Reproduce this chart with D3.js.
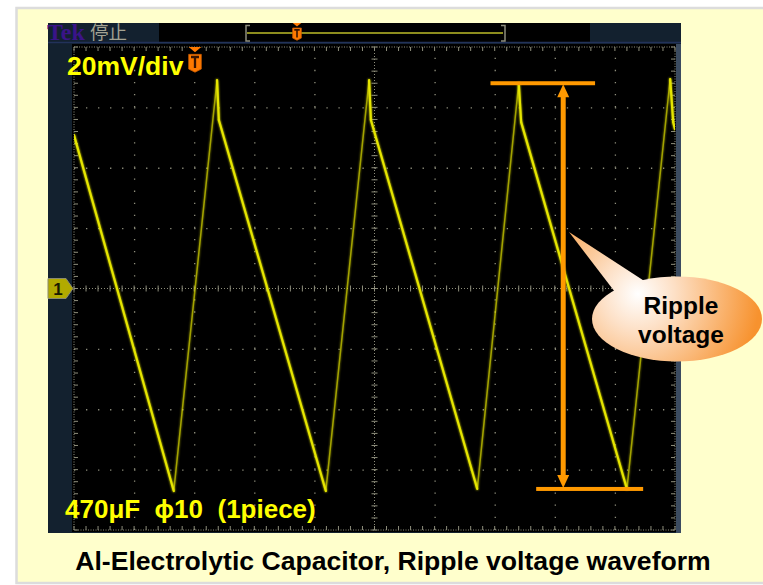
<!DOCTYPE html>
<html>
<head>
<meta charset="utf-8">
<script src="https://cdn.jsdelivr.net/npm/d3@7"></script>
<style>
	body { margin: 0; background: #fff; }
	svg { display: block; }
</style>
</head>
<body>
<div id="scopePlot"></div>
<script>
// waveform: time in divisions, voltage in mV (20mV/div)
var timeDiv = [0, 1.66, 2.38, 2.41, 4.19, 4.91, 4.94, 6.71, 7.40, 7.44, 9.20, 9.92, 9.97, 10]
var rippleMv = [50.8, -67.1, 69.0, 55.8, -67.1, 69.0, 55.8, -66.4, 68.0, 55.1, -66.4, 69.4, 55.1, 52.8]

var statusLabels = ["Tek", "停止"]
var scaleLabel = "20mV/div"
var partLabel = "470μF  ϕ10  (1piece)"
var calloutLines = ["Ripple", "voltage"]
var captionText = "Al-Electrolytic Capacitor, Ripple voltage waveform"
var channelLabel = "1"

;(function() {
	var w = 763, h = 585,
		screen = {left: 74, right: 675, top: 47, bottom: 530},
		navy = "#13212f",
		gridColor = "#8e8e7c",
		traceColor = "#e6e600",
		orange = "#ff9900",
		sans = "Arial, 'Liberation Sans', sans-serif",
		svg = d3.select("#scopePlot").append("svg")
			.attr("width", w)
			.attr("height", h)

	var x = d3.scaleLinear().domain([0, 10]).range([screen.left, screen.right])
	var y = d3.scaleLinear().domain([-80, 80]).range([screen.bottom, screen.top])

	var defs = svg.append("defs")

	var glow = defs.append("filter").attr("id", "glow")
		.attr("x", "-20%").attr("y", "-20%").attr("width", "140%").attr("height", "140%")
	glow.append("feGaussianBlur").attr("stdDeviation", 1.1).attr("result", "blur")
	var merge = glow.append("feMerge")
	merge.append("feMergeNode").attr("in", "blur")
	merge.append("feMergeNode").attr("in", "SourceGraphic")

	defs.append("clipPath").attr("id", "screenClip")
		.append("rect")
		.attr("x", screen.left).attr("y", screen.top)
		.attr("width", screen.right - screen.left)
		.attr("height", screen.bottom - screen.top)

	var bubble = defs.append("radialGradient").attr("id", "bubbleFill")
		.attr("gradientUnits", "userSpaceOnUse")
		.attr("cx", 638).attr("cy", 294).attr("r", 122)
	bubble.append("stop").attr("offset", "0%").attr("stop-color", "#ffffff")
	bubble.append("stop").attr("offset", "30%").attr("stop-color", "#fde0c6")
	bubble.append("stop").attr("offset", "100%").attr("stop-color", "#f7922e")

	// page background
	svg.append("rect")
		.attr("x", 16.5).attr("y", 8)
		.attr("width", 800).attr("height", 575)
		.attr("fill", "#ffffcc")
		.attr("stroke", "#dcdcdc")
		.attr("stroke-width", 2.5)

	// scope body
	svg.append("rect")
		.attr("x", 48).attr("y", 23)
		.attr("width", 633).attr("height", 510)
		.attr("fill", navy)

	svg.append("rect")
		.attr("x", 676).attr("y", 44)
		.attr("width", 5).attr("height", 489)
		.attr("fill", "#3b4b60")

	// status bar
	svg.append("rect")
		.attr("x", 159).attr("y", 23)
		.attr("width", 431).attr("height", 19)
		.attr("fill", "#000")
	svg.append("line")
		.attr("x1", 48).attr("x2", 681)
		.attr("y1", 42.5).attr("y2", 42.5)
		.attr("stroke", "#22325a")
		.attr("stroke-width", 1.5)

	svg.append("text")
		.attr("x", 47).attr("y", 40)
		.attr("font-family", "'Liberation Serif', 'DejaVu Serif', serif")
		.attr("font-weight", "bold")
		.attr("font-size", 24)
		.attr("fill", "#3a1488")
		.text(statusLabels[0])

	svg.append("text")
		.attr("x", 90).attr("y", 39)
		.attr("font-family", "'Noto Sans CJK SC', sans-serif")
		.attr("font-size", 18.5)
		.attr("fill", "#a2a292")
		.text(statusLabels[1])

	// record length bar with trigger point
	svg.append("line")
		.attr("x1", 247).attr("x2", 503)
		.attr("y1", 33).attr("y2", 33)
		.attr("stroke", "#8d8d1e")
		.attr("stroke-width", 2)
	svg.append("path")
		.attr("d", "M250,25.5 H246 V41 H250 M501,25.5 H505 V41 H501")
		.attr("fill", "none")
		.attr("stroke", "#8c8c7c")
		.attr("stroke-width", 1.5)

	var triggerMark = (g, cx, top, s) => {
		g.append("path")
			.attr("d", `M${cx - 6 * s},${top} H${cx + 6 * s} L${cx},${top + 5 * s} Z`)
			.attr("fill", "#ff7a00")
		g.append("path")
			.attr("d", `M${cx - 6 * s},${top + 7 * s} H${cx + 6 * s} V${top + 21 * s} L${cx},${top + 24 * s} L${cx - 6 * s},${top + 21 * s} Z`)
			.attr("fill", "#ff7a00")
			.attr("stroke", "#c85a00")
			.attr("stroke-width", 0.8)
		g.append("path")
			.attr("d", `M${cx - 3.8 * s},${top + 9.5 * s} H${cx + 3.8 * s} M${cx},${top + 9.5 * s} V${top + 20 * s}`)
			.attr("stroke", "#3a1500")
			.attr("stroke-width", 2.2 * s)
	}
	triggerMark(svg.append("g"), 297, 23, 0.72)

	// graticule
	svg.append("rect")
		.attr("x", 72).attr("y", 44)
		.attr("width", 604).attr("height", 488)
		.attr("fill", "#000")

	var vGrid = d3.axisBottom(x)
		.tickValues(d3.range(1, 10).filter(d => d !== 5))
		.tickSize(-(screen.bottom - screen.top))
		.tickFormat("")
	svg.append("g")
		.attr("transform", "translate(0," + screen.bottom + ")")
		.call(vGrid)
		.call(g => g.select(".domain").remove())
		.selectAll("line")
		.attr("stroke", gridColor)
		.attr("stroke-width", 1.3)
		.attr("stroke-dasharray", "1.3 10.775")

	var hGrid = d3.axisLeft(y)
		.tickValues([-60, -40, -20, 20, 40, 60])
		.tickSize(-(screen.right - screen.left))
		.tickFormat("")
	svg.append("g")
		.attr("transform", "translate(" + screen.left + ",0)")
		.call(hGrid)
		.call(g => g.select(".domain").remove())
		.selectAll("line")
		.attr("stroke", gridColor)
		.attr("stroke-width", 1.3)
		.attr("stroke-dasharray", "1.3 10.72")

	// center axes and frame: dense dots plus minor ticks
	var axesG = svg.append("g").attr("stroke", gridColor)
	var minorX = d3.range(0, 10.001, 0.2)
	var minorY = d3.range(-80, 80.001, 4)

	axesG.selectAll(".hAxis")
		.data([0])
		.enter().append("line")
		.attr("x1", screen.left).attr("x2", screen.right)
		.attr("y1", d => y(d)).attr("y2", d => y(d))
		.attr("stroke-dasharray", "1 2")
	axesG.selectAll(".vAxis")
		.data([5])
		.enter().append("line")
		.attr("x1", d => x(d)).attr("x2", d => x(d))
		.attr("y1", screen.top).attr("y2", screen.bottom)
		.attr("stroke-dasharray", "1 2")

	axesG.append("rect")
		.attr("x", screen.left).attr("y", screen.top)
		.attr("width", screen.right - screen.left)
		.attr("height", screen.bottom - screen.top)
		.attr("fill", "none")
		.attr("stroke-dasharray", "1 1.5")

	var tickLen = 3
	axesG.selectAll(".xTick")
		.data(minorX)
		.enter().append("path")
		.attr("d", d => `M${x(d)},${y(0) - tickLen}V${y(0) + tickLen}` +
			`M${x(d)},${screen.top}v${tickLen + 1}M${x(d)},${screen.bottom}v${-tickLen - 1}`)
	axesG.selectAll(".yTick")
		.data(minorY)
		.enter().append("path")
		.attr("d", d => `M${x(5) - tickLen},${y(d)}H${x(5) + tickLen}` +
			`M${screen.left},${y(d)}h${tickLen + 1}M${screen.right},${y(d)}h${-tickLen - 1}`)

	// the trace
	var points = timeDiv.map((t, i) => ({t: t, v: rippleMv[i]}))
	var segments = d3.pairs(points)

	svg.append("g")
		.attr("clip-path", "url(#screenClip)")
		.attr("filter", "url(#glow)")
		.selectAll("line")
		.data(segments)
		.enter()
		.append("line")
		.attr("x1", d => x(d[0].t))
		.attr("y1", d => y(d[0].v))
		.attr("x2", d => x(d[1].t))
		.attr("y2", d => y(d[1].v))
		.attr("stroke", traceColor)
		.attr("stroke-linecap", "round")
		.attr("stroke-width", d => d[1].v > d[0].v ? 1.5 : 2.2)
		.attr("stroke-opacity", d => d[1].v > d[0].v ? 0.6 : 1)

	// channel 1 marker
	var y0 = y(0)
	svg.append("path")
		.attr("d", `M48,${y0 - 10} H66 L73,${y0} L66,${y0 + 10} H48 Z`)
		.attr("fill", "#b2aa00")
		.attr("stroke", "#8a8a70")
		.attr("stroke-width", 1)
	svg.append("text")
		.attr("x", 58).attr("y", y0 + 6.5)
		.attr("text-anchor", "middle")
		.attr("font-family", sans)
		.attr("font-weight", "bold")
		.attr("font-size", 17)
		.attr("fill", "#1a1a00")
		.text(channelLabel)

	// labels on screen
	svg.append("text")
		.attr("x", 67).attr("y", 75)
		.attr("font-family", sans)
		.attr("font-weight", "bold")
		.attr("font-size", 26.5)
		.attr("fill", "#ffff00")
		.text(scaleLabel)
	triggerMark(svg.append("g"), 195, 47, 1.05)

	svg.append("text")
		.attr("x", 65).attr("y", 518)
		.attr("font-family", sans)
		.attr("font-weight", "bold")
		.attr("font-size", 26)
		.attr("fill", "#ffff00")
		.style("white-space", "pre")
		.text(partLabel)

	// ripple arrow, between the peak and the next valley
	var peak = points[8], valley = points[10]
	var arrowAt = 8.14
	var ax = x(arrowAt), yTop = y(peak.v), yBot = y(valley.v)
	var arrowG = svg.append("g").attr("fill", orange).attr("stroke", "none")

	arrowG.append("rect")
		.attr("x", x(6.93)).attr("y", yTop - 2)
		.attr("width", x(8.67) - x(6.93)).attr("height", 4)
	arrowG.append("rect")
		.attr("x", x(7.69)).attr("y", yBot - 2)
		.attr("width", x(9.47) - x(7.69)).attr("height", 4)
	arrowG.append("rect")
		.attr("x", ax - 2.5).attr("y", yTop + 10)
		.attr("width", 5).attr("height", yBot - yTop - 20)
	arrowG.append("path")
		.attr("d", `M${ax},${yTop + 1} L${ax + 6},${yTop + 14} H${ax - 6} Z`)
	arrowG.append("path")
		.attr("d", `M${ax},${yBot - 1} L${ax + 6},${yBot - 14} H${ax - 6} Z`)

	// callout bubble
	var bubbleG = svg.append("g").attr("fill", "url(#bubbleFill)")
	bubbleG.append("ellipse")
		.attr("cx", 677).attr("cy", 319)
		.attr("rx", 85).attr("ry", 42.5)
	bubbleG.append("path")
		.attr("d", "M569,232 L652,286 L618,296 Z")

	svg.append("g")
		.attr("font-family", sans)
		.attr("font-weight", "bold")
		.attr("font-size", 24.5)
		.attr("fill", "#000")
		.attr("text-anchor", "middle")
		.selectAll("text")
		.data(calloutLines)
		.enter()
		.append("text")
		.attr("x", 681)
		.attr("y", (d, i) => 314 + i * 29)
		.text(d => d)

	// caption
	svg.append("text")
		.attr("x", 393).attr("y", 570)
		.attr("text-anchor", "middle")
		.attr("font-family", sans)
		.attr("font-weight", "bold")
		.attr("font-size", 26.6)
		.attr("fill", "#000")
		.text(captionText)
})()
</script>
</body>
</html>
